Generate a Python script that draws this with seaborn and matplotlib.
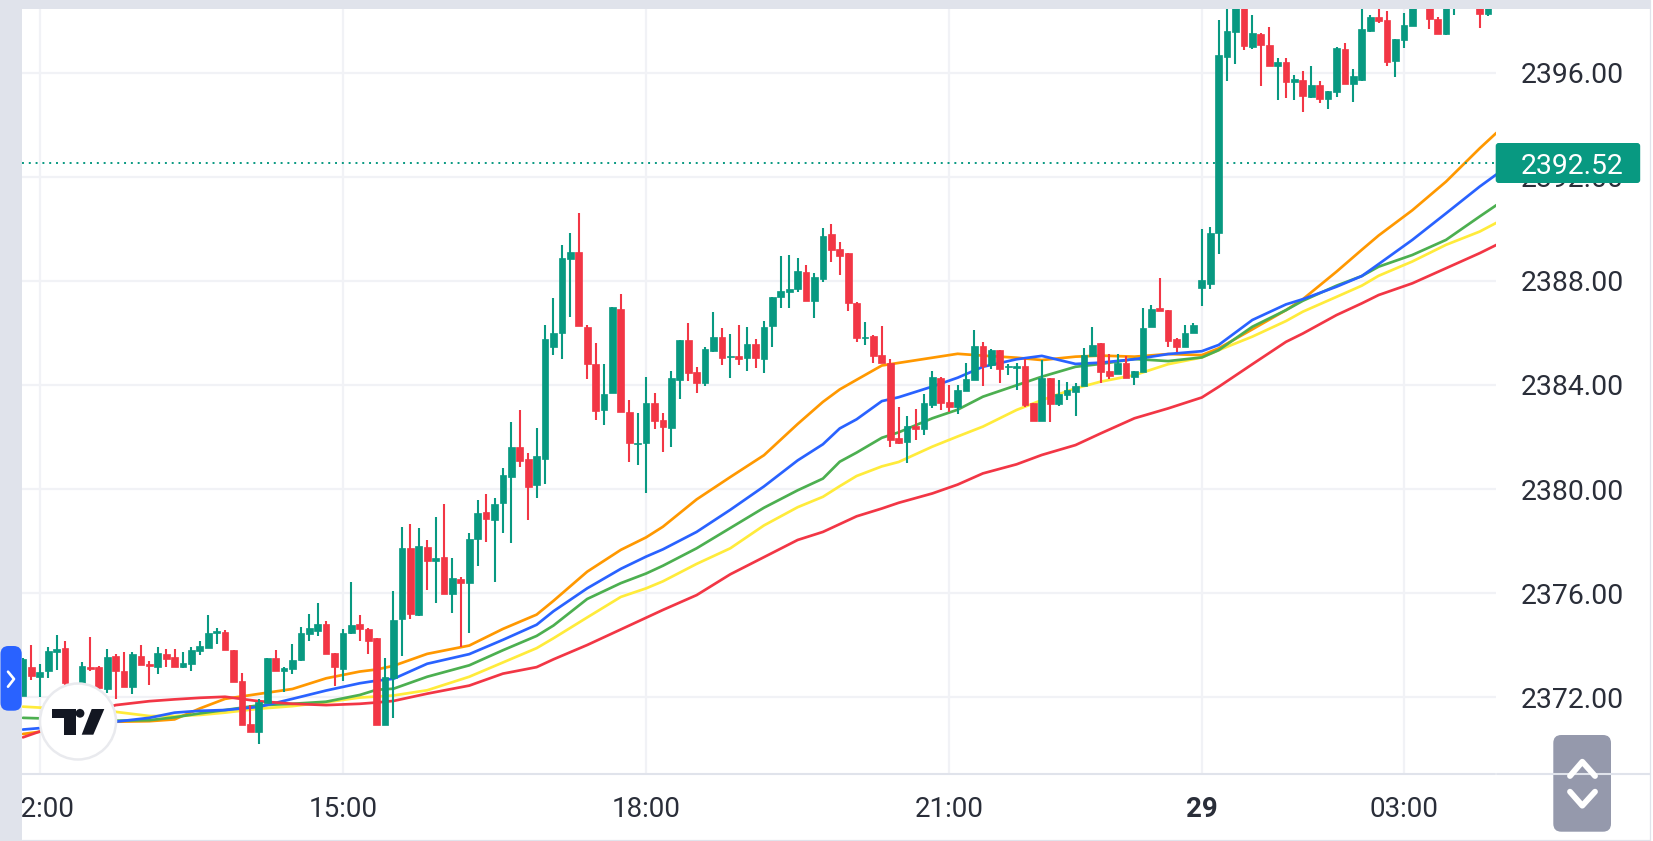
import numpy as np
import pandas as pd
import matplotlib.pyplot as plt
import seaborn as sns
from matplotlib.patches import Circle, FancyBboxPatch, Polygon, Rectangle

# velas de 5 minutos, indice 0 = 15:00
opens = [2372.04, 2373.17, 2372.78, 2373.00, 2373.74, 2373.90, 2372.40, 2372.53, 2373.17, 2373.17,
         2372.30, 2373.59, 2373.01, 2372.37, 2373.58, 2373.27, 2373.17, 2373.65, 2373.53, 2373.14,
         2373.27, 2373.76, 2373.87, 2374.45, 2374.51, 2373.81, 2372.62, 2370.95, 2370.65, 2371.78,
         2373.49, 2373.00, 2373.08, 2373.42, 2374.42, 2374.55, 2374.82, 2373.68, 2373.08, 2374.45,
         2374.82, 2374.63, 2374.27, 2370.92, 2372.72, 2374.99, 2377.72, 2375.15, 2377.78, 2377.23,
         2377.40, 2375.95, 2376.54, 2376.37, 2378.06, 2379.10, 2378.81, 2379.45, 2380.45, 2381.60,
         2381.14, 2380.14, 2381.15, 2385.47, 2385.99, 2388.85, 2389.10, 2386.24, 2384.82, 2383.04,
         2383.68, 2386.94, 2382.97, 2381.74, 2381.76, 2383.29, 2382.65, 2382.35, 2384.19, 2385.73,
         2384.49, 2384.09, 2385.29, 2385.83, 2385.06, 2385.10, 2385.05, 2385.59, 2385.01, 2386.26,
         2387.40, 2387.58, 2387.68, 2388.36, 2387.23, 2388.06, 2389.79, 2389.24, 2389.06, 2387.17,
         2385.79, 2385.88, 2385.14, 2384.86, 2381.96, 2381.79, 2382.42, 2382.31, 2383.24, 2384.27,
         2383.35, 2383.17, 2383.77, 2384.18, 2385.51, 2384.76, 2385.33, 2384.68, 2384.65, 2384.73,
         2383.29, 2382.63, 2384.28, 2383.26, 2383.61, 2383.73, 2383.96, 2385.13, 2385.60, 2384.52,
         2384.42, 2384.86, 2384.29, 2384.51, 2386.22, 2386.97, 2386.88, 2385.77, 2385.47, 2385.99,
         2387.73, 2387.89, 2389.86, 2396.63, 2397.58, 2398.90, 2396.98, 2397.49, 2397.08, 2396.25,
         2396.44, 2395.64, 2395.73, 2395.08, 2395.55, 2395.01, 2395.28, 2396.94, 2395.57, 2395.73,
         2397.60, 2398.14, 2398.04, 2396.45, 2397.27, 2397.82, 2399.20, 2398.80, 2398.09, 2397.49,
         2398.80, 2399.20, 2399.20, 2398.80, 2398.28]
highs = [2373.50, 2374.00, 2373.26, 2373.94, 2374.37, 2374.17, 2372.50, 2373.35, 2374.32, 2373.21,
         2373.86, 2373.64, 2373.72, 2373.72, 2374.00, 2373.38, 2373.94, 2373.85, 2373.85, 2373.72,
         2373.94, 2374.17, 2375.14, 2374.64, 2374.59, 2373.81, 2372.94, 2371.68, 2371.91, 2373.49,
         2373.81, 2373.17, 2374.04, 2374.68, 2375.18, 2375.60, 2374.91, 2373.71, 2374.60, 2376.44,
         2375.14, 2374.64, 2374.27, 2373.49, 2376.08, 2378.55, 2378.65, 2378.51, 2378.04, 2378.91,
         2379.42, 2377.36, 2376.63, 2378.29, 2379.58, 2379.79, 2379.67, 2380.82, 2382.56, 2383.03,
         2381.37, 2382.33, 2386.29, 2387.36, 2389.37, 2389.83, 2390.63, 2386.29, 2385.60, 2384.82,
         2386.99, 2387.49, 2383.44, 2382.94, 2384.32, 2383.68, 2382.94, 2384.54, 2385.73, 2386.38,
         2384.68, 2385.46, 2386.79, 2386.20, 2385.97, 2386.29, 2386.24, 2385.78, 2386.47, 2387.40,
         2388.96, 2389.01, 2388.87, 2388.60, 2388.32, 2390.03, 2390.20, 2389.51, 2389.06, 2387.20,
         2386.44, 2385.92, 2386.28, 2384.99, 2383.15, 2382.79, 2383.06, 2383.67, 2384.54, 2384.29,
         2383.99, 2384.00, 2384.86, 2386.10, 2385.64, 2385.37, 2385.33, 2384.81, 2384.86, 2384.99,
         2383.29, 2384.95, 2384.28, 2384.18, 2384.13, 2384.08, 2385.41, 2386.24, 2385.60, 2385.19,
         2385.18, 2385.11, 2384.54, 2386.95, 2387.08, 2388.10, 2386.90, 2385.79, 2386.29, 2386.38,
         2389.99, 2390.07, 2398.04, 2399.50, 2399.50, 2399.30, 2398.23, 2397.53, 2397.76, 2396.57,
         2396.57, 2395.91, 2396.07, 2396.25, 2395.68, 2395.32, 2397.01, 2397.17, 2396.14, 2398.60,
         2398.22, 2398.60, 2398.40, 2397.30, 2398.32, 2399.00, 2399.80, 2399.00, 2398.17, 2399.00,
         2399.50, 2399.60, 2399.60, 2399.00, 2399.00]
lows = [2372.04, 2372.65, 2371.99, 2372.72, 2373.04, 2372.33, 2372.01, 2372.46, 2373.01, 2372.27,
        2372.14, 2371.92, 2372.40, 2372.12, 2373.22, 2372.47, 2372.90, 2373.17, 2373.14, 2373.13,
        2373.00, 2373.60, 2373.87, 2374.05, 2373.82, 2372.58, 2370.92, 2370.65, 2370.18, 2371.76,
        2372.99, 2372.21, 2372.90, 2373.40, 2374.17, 2374.36, 2373.64, 2372.42, 2372.62, 2374.41,
        2374.17, 2373.67, 2370.91, 2370.92, 2371.19, 2373.59, 2375.01, 2375.12, 2376.12, 2375.63,
        2375.95, 2375.25, 2373.91, 2374.48, 2377.05, 2377.97, 2376.41, 2378.29, 2377.94, 2380.86,
        2378.79, 2379.67, 2380.18, 2385.15, 2385.01, 2386.63, 2386.26, 2384.23, 2382.67, 2382.47,
        2383.68, 2382.95, 2381.05, 2380.92, 2379.86, 2382.29, 2381.41, 2381.60, 2383.45, 2384.14,
        2383.68, 2383.96, 2385.28, 2384.78, 2384.28, 2384.78, 2384.55, 2384.64, 2384.46, 2385.47,
        2386.95, 2386.95, 2387.59, 2387.23, 2386.59, 2387.97, 2388.74, 2388.24, 2386.86, 2385.67,
        2385.53, 2384.83, 2384.83, 2381.61, 2381.73, 2381.01, 2381.88, 2382.06, 2383.13, 2383.04,
        2382.96, 2382.90, 2383.77, 2384.18, 2383.96, 2384.60, 2384.09, 2384.38, 2383.81, 2383.17,
        2382.63, 2382.63, 2382.58, 2383.20, 2383.41, 2382.81, 2383.96, 2385.13, 2384.09, 2384.23,
        2384.42, 2384.28, 2384.00, 2384.51, 2386.22, 2386.86, 2385.47, 2385.28, 2385.47, 2385.99,
        2387.05, 2387.69, 2389.03, 2395.71, 2396.35, 2396.89, 2396.91, 2395.48, 2396.27, 2394.96,
        2395.05, 2394.96, 2394.50, 2395.05, 2394.84, 2394.60, 2395.09, 2395.57, 2394.87, 2395.71,
        2397.59, 2397.91, 2396.26, 2395.84, 2396.95, 2397.82, 2398.90, 2397.68, 2397.50, 2397.46,
        2398.23, 2398.90, 2398.90, 2397.72, 2398.19]
closes = [2373.45, 2372.81, 2372.97, 2373.77, 2373.85, 2372.53, 2372.14, 2373.21, 2373.06, 2372.33,
          2373.54, 2373.00, 2372.40, 2373.64, 2373.22, 2373.19, 2373.68, 2373.45, 2373.14, 2373.29,
          2373.81, 2373.95, 2374.45, 2374.55, 2373.82, 2372.58, 2370.92, 2370.65, 2371.81, 2373.49,
          2373.01, 2373.10, 2373.44, 2374.46, 2374.64, 2374.82, 2373.64, 2373.14, 2374.46, 2374.77,
          2374.62, 2374.17, 2370.94, 2372.78, 2374.96, 2377.72, 2375.19, 2377.82, 2377.23, 2377.36,
          2375.95, 2376.57, 2376.37, 2378.09, 2379.06, 2378.85, 2379.44, 2380.54, 2381.60, 2381.09,
          2380.09, 2381.27, 2385.78, 2386.01, 2388.87, 2389.10, 2386.26, 2384.79, 2382.99, 2383.65,
          2386.99, 2382.95, 2381.76, 2381.78, 2383.29, 2382.63, 2382.38, 2384.26, 2385.73, 2384.47,
          2384.09, 2385.37, 2385.83, 2385.03, 2385.10, 2385.01, 2385.59, 2385.03, 2386.24, 2387.40,
          2387.63, 2387.68, 2388.37, 2387.23, 2388.14, 2389.74, 2389.19, 2388.97, 2387.14, 2385.79,
          2385.83, 2385.11, 2384.83, 2381.88, 2381.78, 2382.42, 2382.31, 2383.29, 2384.32, 2383.32,
          2383.17, 2383.81, 2384.23, 2385.51, 2384.73, 2385.33, 2384.60, 2384.73, 2384.73, 2383.22,
          2382.63, 2384.28, 2383.27, 2383.65, 2383.81, 2383.95, 2385.14, 2385.54, 2384.49, 2384.36,
          2384.86, 2384.28, 2384.52, 2386.20, 2386.94, 2386.86, 2385.70, 2385.47, 2386.01, 2386.29,
          2388.04, 2389.84, 2396.71, 2397.63, 2398.90, 2397.04, 2397.54, 2397.08, 2396.27, 2396.44,
          2395.66, 2395.76, 2395.12, 2395.55, 2395.00, 2395.32, 2396.96, 2395.57, 2395.87, 2397.71,
          2398.14, 2397.98, 2396.44, 2397.30, 2397.85, 2398.80, 2399.50, 2398.07, 2397.50, 2398.70,
          2399.20, 2399.50, 2399.50, 2398.28, 2398.70]

# medias moveis lidas em alguns pontos
ma_x = [-38, -27, -23, -20, -17, -14, -10, -6, -2, 2, 4, 6, 10, 15, 19, 23, 25, 29, 33, 36, 38, 42, 46, 50, 54, 57,
        59, 61, 64, 66, 70, 73, 76, 80, 83, 87, 90, 94, 98, 102, 104, 108, 112, 114, 118, 121, 123, 127, 131, 135, 137]
ma_orange = [2370.58, 2371.05, 2371.07, 2371.14, 2371.56, 2371.93, 2372.12, 2372.31, 2372.72, 2372.98, 2373.06, 2373.20,
             2373.66, 2373.98, 2374.62, 2375.17, 2375.70, 2376.82, 2377.66, 2378.14, 2378.55, 2379.60, 2380.46, 2381.30,
             2382.50, 2383.35, 2383.83, 2384.20, 2384.75, 2384.85, 2385.05, 2385.20, 2385.13, 2385.05, 2384.96, 2385.09,
             2385.13, 2385.09, 2385.19, 2385.15, 2385.41, 2386.14, 2386.88, 2387.30, 2388.36, 2389.20, 2389.75, 2390.72,
             2391.82, 2393.10, 2393.70]
ma_blue = [2370.75, 2371.05, 2371.20, 2371.40, 2371.47, 2371.50, 2371.62, 2371.93, 2372.25, 2372.53, 2372.63, 2372.70,
           2373.28, 2373.65, 2374.20, 2374.78, 2375.30, 2376.18, 2376.93, 2377.40, 2377.68, 2378.35, 2379.20, 2380.10,
           2381.10, 2381.72, 2382.33, 2382.68, 2383.38, 2383.53, 2383.94, 2384.28, 2384.70, 2384.99, 2385.12, 2384.81,
           2384.86, 2384.99, 2385.19, 2385.30, 2385.54, 2386.50, 2387.10, 2387.30, 2387.78, 2388.19, 2388.65, 2389.58,
           2390.60, 2391.63, 2392.10]
ma_green = [2371.20, 2371.09, 2371.11, 2371.22, 2371.37, 2371.50, 2371.68, 2371.74, 2371.82, 2372.08, 2372.28, 2372.32,
            2372.78, 2373.22, 2373.80, 2374.35, 2374.75, 2375.77, 2376.38, 2376.75, 2377.05, 2377.72, 2378.50, 2379.28,
            2379.95, 2380.40, 2381.05, 2381.40, 2381.97, 2382.18, 2382.72, 2383.05, 2383.55, 2383.99, 2384.32, 2384.70,
            2384.81, 2385.00, 2384.92, 2385.06, 2385.34, 2386.24, 2386.88, 2387.24, 2387.82, 2388.19, 2388.55, 2389.00,
            2389.58, 2390.48, 2390.92]
ma_yellow = [2371.63, 2371.43, 2371.27, 2371.27, 2371.31, 2371.40, 2371.55, 2371.65, 2371.80, 2371.98, 2372.02, 2372.06,
             2372.26, 2372.78, 2373.33, 2373.88, 2374.26, 2375.06, 2375.85, 2376.18, 2376.45, 2377.12, 2377.72, 2378.60,
             2379.30, 2379.70, 2380.11, 2380.50, 2380.87, 2381.04, 2381.63, 2382.02, 2382.40, 2383.04, 2383.42, 2383.87,
             2384.13, 2384.38, 2384.80, 2385.06, 2385.34, 2385.86, 2386.46, 2386.82, 2387.39, 2387.82, 2388.20, 2388.75,
             2389.39, 2389.90, 2390.24]
ma_red = [2370.45, 2371.69, 2371.84, 2371.91, 2371.97, 2372.01, 2371.84, 2371.74, 2371.69, 2371.74, 2371.79, 2371.85,
          2372.13, 2372.44, 2372.90, 2373.15, 2373.45, 2374.00, 2374.60, 2375.05, 2375.35, 2375.92, 2376.72, 2377.38,
          2378.04, 2378.35, 2378.65, 2378.95, 2379.25, 2379.47, 2379.83, 2380.17, 2380.60, 2380.95, 2381.31, 2381.69,
          2382.14, 2382.72, 2383.10, 2383.52, 2383.93, 2384.80, 2385.66, 2385.98, 2386.69, 2387.14, 2387.46, 2387.91,
          2388.49, 2389.07, 2389.39]

y_ticks = [2372, 2376, 2380, 2384, 2388, 2392, 2396]
x_ticks = [-36, 0, 36, 72, 102, 126]
x_labels = ["12:00", "15:00", "18:00", "21:00", "29", "03:00"]
last_price = 2392.52

GREEN = "#089981"
RED = "#f23645"
GRID = "#f1f2f6"
STRIP = "#e0e3eb"
TEXT = "#2a2e39"

sns.set_theme(style="white")
plt.rcParams["font.family"] = "Roboto"

df = pd.DataFrame({"open": opens, "high": highs, "low": lows, "close": closes})
df["bar"] = np.arange(-38, -38 + len(df))
df["color"] = np.where(df["close"] >= df["open"], GREEN, RED)

W, H = 1653, 841
fig = plt.figure(figsize=(W / 100, H / 100), dpi=100, facecolor="white")
ax = fig.add_axes([22 / W, (H - 774) / H, 1473.5 / W, 765 / H])

# medias moveis por baixo das velas
for values, color in [(ma_yellow, "#ffeb3b"), (ma_orange, "#ff9800"), (ma_green, "#4caf50"),
                      (ma_blue, "#2962ff"), (ma_red, RED)]:
    sns.lineplot(x=ma_x, y=values, color=color, linewidth=1.95, ax=ax, zorder=2, errorbar=None)

ax.vlines(df["bar"], df["low"], df["high"], colors=df["color"], linewidth=1.5, zorder=3)
ax.bar(df["bar"], (df["close"] - df["open"]).abs(), bottom=df[["open", "close"]].min(axis=1),
       width=0.8, color=df["color"], edgecolor=df["color"], linewidth=0.5, zorder=4)

ax.axhline(last_price, color=GREEN, linewidth=1.4, linestyle=(0, (1, 2.5)), zorder=5)

ax.set_xlim(-38.12, 136.88)
ax.set_ylim(2369.04, 2398.46)
ax.set_xlabel("")
ax.set_ylabel("")
ax.set_xticks(x_ticks)
ax.set_xticklabels(x_labels, fontsize=20, color=TEXT)
ax.set_yticks(y_ticks)
ax.set_yticklabels([f"{v:.2f}" for v in y_ticks], fontsize=20.4, color=TEXT)
ax.yaxis.tick_right()
ax.tick_params(axis="x", length=0, pad=16)
ax.tick_params(axis="y", length=0, pad=18.5)
ax.get_xticklabels()[4].set_fontweight("bold")
ax.grid(True, color=GRID, linewidth=1.6)
ax.set_axisbelow(True)
sns.despine(ax=ax, left=True, bottom=True, right=True, top=True)

# elementos da interface, em coordenadas de pixel
ui = fig.add_axes([0, 0, 1, 1], zorder=5)
ui.set_xlim(0, W)
ui.set_ylim(H, 0)
ui.axis("off")
ui.patch.set_alpha(0)

ui.add_patch(Rectangle((0, 0), 21.7, H, color=STRIP, lw=0))
ui.add_patch(Rectangle((0, 0), 1650, 9, color=STRIP, lw=0))
ui.plot([22, 1495], [774, 774], color=STRIP, lw=1.5)
ui.plot([1497, 1650], [774, 774], color=STRIP, lw=1.5)
ui.plot([1650, 1650], [0, H], color=STRIP, lw=0.9)
ui.plot([22, 1650], [840.3, 840.3], color=STRIP, lw=0.9)

ui.add_patch(FancyBboxPatch((0.5, 646), 21.2, 64.7, boxstyle="round,pad=0,rounding_size=8", fc="#2962ff", ec="none"))
ui.plot([8, 14, 8], [671.7, 679, 686.7], color="white", lw=1.9, solid_capstyle="round", solid_joinstyle="round")

ui.add_patch(FancyBboxPatch((1495.7, 143), 144.5, 40, boxstyle="round,pad=0,rounding_size=3", fc=GREEN, ec="none"))
ui.text(1572.5, 163.5, f"{last_price:.2f}", color="white", fontsize=20.4, ha="center", va="center_baseline")

ui.add_patch(FancyBboxPatch((1553.3, 735), 57.7, 96.7, boxstyle="round,pad=0,rounding_size=8", fc="#8f94a8", ec="none",
                            alpha=0.95))
ui.plot([1570, 1582.3, 1595], [776, 761.7, 776], color="white", lw=4.2, solid_capstyle="round", solid_joinstyle="round")
ui.plot([1570, 1582.3, 1595], [791.7, 805.7, 791.7], color="white", lw=4.2, solid_capstyle="round", solid_joinstyle="round")

ui.add_patch(Circle((78, 721.5), 38, fc="white", ec="#e9eaee", lw=1.8))
ui.add_patch(Polygon([(52.3, 709), (76, 709), (76, 734.7), (64.3, 734.7), (64.3, 718.3), (52.3, 718.3)], fc="#131722", ec="none"))
ui.add_patch(Circle((80, 713.3), 4.4, fc="#131722", ec="none"))
ui.add_patch(Polygon([(91.7, 709), (104.3, 709), (93.3, 734.7), (81.7, 734.7)], fc="#131722", ec="none"))

fig.savefig("out.png", dpi=100)
plt.close()
